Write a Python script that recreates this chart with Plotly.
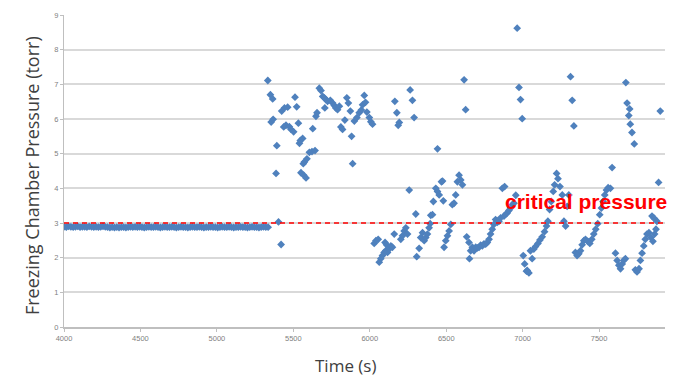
import plotly.graph_objects as go

# Flat (steady) segment
time_flat = [
    4000,4015,4030,4045,4060,4075,4090,4105,4120,4135,
    4150,4165,4180,4195,4210,4225,4240,4255,4270,4285,
    4300,4315,4330,4345,4360,4375,4390,4405,4420,4435,
    4450,4465,4480,4495,4510,4525,4540,4555,4570,4585,
    4600,4615,4630,4645,4660,4675,4690,4705,4720,4735,
    4750,4765,4780,4795,4810,4825,4840,4855,4870,4885,
    4900,4915,4930,4945,4960,4975,4990,5005,5020,5035,
    5050,5065,5080,5095,5110,5125,5140,5155,5170,5185,
    5200,5215,5230,5245,5260,5275,5290,5305,5320,5335]
pres_flat = [
    2.89,2.88,2.90,2.89,2.88,2.89,2.90,2.88,2.89,2.89,
    2.88,2.90,2.89,2.88,2.89,2.88,2.89,2.90,2.89,2.88,
    2.87,2.88,2.87,2.88,2.87,2.88,2.88,2.87,2.88,2.89,
    2.88,2.89,2.88,2.89,2.88,2.87,2.88,2.89,2.88,2.88,
    2.89,2.88,2.87,2.88,2.89,2.88,2.88,2.89,2.88,2.87,
    2.88,2.89,2.88,2.88,2.87,2.88,2.89,2.88,2.88,2.89,
    2.88,2.87,2.88,2.88,2.89,2.88,2.88,2.87,2.88,2.89,
    2.88,2.88,2.89,2.88,2.87,2.88,2.88,2.89,2.88,2.88,
    2.87,2.88,2.89,2.88,2.88,2.87,2.88,2.89,2.88,2.88]

# Unsteady segment
time_var = [
    5333,5350,5355,5365,5368,5387,5392,5403,5420,5424,5437,5442,5452,5463,5474,5485,
    5502,5511,5522,5533,5540,5546,5550,5561,5565,5568,5572,5583,5589,5605,5622,5627,
    5642,5648,5655,5670,5681,5692,5703,5706,5713,5724,5742,5757,5768,5778,5789,5801,
    5811,5822,5837,5850,5860,5873,5881,5888,5899,5916,5931,5945,5953,5964,5972,5981,
    5997,6007,6018,
    6029,6040,6055,6062,6072,6083,6094,6100,6105,6110,6116,6127,6138,6148,6160,6164,
    6177,6186,6193,6203,6214,6225,6236,6247,6258,6264,6279,6290,6301,6307,6323,6333,
    6345,6356,6366,6377,6388,6395,6399,6410,6416,6432,6443,6443,6454,6469,6476,6481,
    6486,6497,6508,6519,6530,6540,6551,6562,6573,6584,6595,6606,6617,6627,6634,6649,
    6652,6660,6671,6682,6693,6704,6715,6725,6736,6747,6758,6769,6780,6790,6801,6812,
    6823,6834,6845,6856,6867,6878,6882,6889,6899,6910,6921,6932,6943,6955,6964,6976,
    6986,6997,7004,7013,7025,7030,7041,7051,7062,7073,7084,7100,7113,7128,7143,7156,
    7165,7176,7187,7200,7209,7222,7231,7244,7259,7270,7281,7291,7302,7313,7324,7335,
    7345,7356,7367,7378,7389,7400,7411,7426,7439,7452,7465,7478,7491,7504,7515,7526,
    7537,7548,7559,7574,7585,7607,7618,7629,7640,7651,7661,7672,7675,7683,7694,7700,
    7704,7715,7730,7737,7748,7761,7770,7781,7792,7802,7813,7826,7839,7846,7852,7861,
    7863,7872,7878,7889,7900]
pres_var = [
    7.11,6.70,5.91,6.58,5.99,4.43,5.23,3.03,2.38,6.23,5.77,6.32,5.82,6.34,5.78,5.70,
    5.63,6.63,6.35,5.88,5.30,5.38,4.45,5.44,4.71,4.38,4.76,4.30,4.85,5.04,5.06,5.72,
    5.09,6.08,6.18,6.89,6.82,6.65,6.61,6.32,6.56,6.51,6.54,6.46,6.39,6.32,6.27,6.37,
    5.77,5.70,5.97,6.61,6.46,6.23,5.50,4.71,5.94,6.04,6.18,6.26,6.41,6.68,6.48,6.20,
    6.04,5.92,5.85,
    2.41,2.49,2.53,1.87,1.97,2.06,2.15,2.44,2.20,2.37,2.15,2.25,2.34,2.30,2.68,6.51,
    6.18,5.82,5.90,2.53,2.63,2.77,2.86,2.68,3.95,6.84,6.54,6.04,3.26,2.03,2.27,2.58,
    2.72,2.49,2.58,2.68,2.86,2.98,3.22,3.24,3.62,4.00,3.91,5.14,3.81,4.19,4.21,3.64,
    2.30,2.49,2.63,2.77,2.96,3.53,3.57,3.81,4.19,4.38,4.24,4.10,7.13,6.27,2.60,2.44,
    1.97,2.20,2.30,2.20,2.30,2.28,2.30,2.36,2.34,2.40,2.39,2.44,2.53,2.68,2.82,2.96,
    3.10,3.02,3.05,3.15,4.00,3.20,4.05,3.25,3.29,3.36,3.43,3.53,3.57,3.80,8.62,6.91,
    6.56,6.01,2.06,1.82,1.61,1.63,1.56,2.20,1.97,2.25,2.32,2.41,2.51,2.60,2.75,2.91,
    3.05,3.39,3.62,3.91,4.10,4.43,4.28,4.05,3.81,3.05,2.91,3.48,3.81,7.22,6.54,5.80,
    2.15,2.06,2.11,2.20,2.37,2.49,2.53,2.47,2.41,2.53,2.68,2.82,2.98,3.24,3.43,3.62,
    3.81,3.95,4.02,4.00,4.60,2.13,1.92,1.78,1.68,1.82,1.92,1.97,7.05,6.46,6.10,6.29,
    5.85,5.61,5.28,1.65,1.59,1.68,1.92,2.13,2.34,2.53,2.68,2.72,2.58,3.20,2.47,3.13,
    2.68,2.82,3.05,4.17,6.23]

critical_pressure = 3.0
x_range = [4000, 7931]
x_ticks = [4000, 4500, 5000, 5500, 6000, 6500, 7000, 7500]
y_ticks = [0, 1, 2, 3, 4, 5, 6, 7, 8, 9]

fig = go.Figure()
fig.add_trace(go.Scatter(
    x=time_flat + time_var, y=pres_flat + pres_var, mode="markers",
    marker=dict(symbol="diamond", size=6, color="#4F81BD", line=dict(width=0)),
    showlegend=False, hoverinfo="skip"))

fig.add_shape(type="line", xref="x", yref="y", x0=x_range[0], x1=x_range[1],
              y0=critical_pressure, y1=critical_pressure,
              line=dict(color="#FF0000", width=1.5, dash="5px,4px"))

fig.update_layout(
    width=681, height=377,
    margin=dict(l=64, r=16, t=11, b=50),
    paper_bgcolor="white", plot_bgcolor="white",
    font=dict(family="Open Sans", color="#404040"),
    xaxis=dict(range=x_range, tickvals=x_ticks, ticktext=[str(t) for t in x_ticks],
               showgrid=False, zeroline=False, showline=True, linecolor="#bfbfbf",
               linewidth=1.5, ticks="outside", ticklen=3, tickcolor="#bfbfbf",
               tickfont=dict(size=7.5, color="#7f7f7f", family="Liberation Sans")),
    yaxis=dict(range=[0, 9], tickvals=y_ticks, showgrid=True, gridcolor="#d9d9d9",
               gridwidth=1.5, zeroline=False, showline=True, linecolor="#bfbfbf",
               linewidth=1, ticks="outside", ticklen=3, tickcolor="#bfbfbf",
               tickfont=dict(size=7.5, color="#7f7f7f", family="Liberation Sans")),
    annotations=[
        dict(text="<b>critical pressure</b>", xref="paper", yref="y", x=1.0, y=3.62,
             xanchor="right", yanchor="middle", xshift=4, showarrow=False,
             font=dict(family="Liberation Sans", size=21, color="#FF0000")),
        dict(text="Freezing Chamber Pressure (torr)", xref="paper", yref="paper",
             x=-0.0532, y=0.5, yshift=-5, textangle=-90, xanchor="center",
             yanchor="middle", showarrow=False,
             font=dict(family="Open Sans", size=18, color="#404040")),
        dict(text="Time (s)", xref="paper", yref="paper", x=0.4676, y=0,
             yshift=-38, xanchor="center", yanchor="middle", showarrow=False,
             font=dict(family="Open Sans", size=17, color="#404040")),
    ],
)

fig.write_html("out.html")
